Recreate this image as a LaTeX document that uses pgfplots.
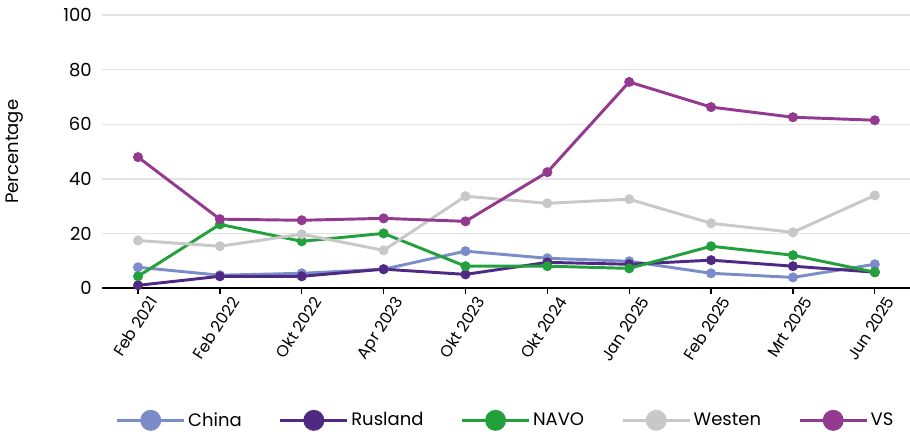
\documentclass[border=0pt]{standalone}
\usepackage{pgfplots}
\pgfplotsset{compat=1.18}
\usepackage{fontspec}
\setmainfont{Poppins}
\definecolor{cChina}{HTML}{7B8DC8}
\definecolor{cRus}{HTML}{4F2A85}
\definecolor{cNavo}{HTML}{22A03C}
\definecolor{cWest}{HTML}{C8C8C8}
\definecolor{cVS}{HTML}{93398F}

\begin{document}
\begin{tikzpicture}
\begin{axis}[
  name=main,
  scale only axis,
  width=606pt,
  height=205pt,
  xmin=-0.44, xmax=9.43,
  ymin=0, ymax=100,
  ytick={0,20,...,100},
  xtick={0,...,9},
  xticklabels={Feb 2021,Feb 2022,Okt 2022,Apr 2023,Okt 2023,Okt 2024,Jan 2025,Feb 2025,Mrt 2025,Jun 2025},
  xticklabel style={rotate=57, anchor=north east, font=\fontsize{12}{12}\selectfont, inner sep=1pt, xshift=4.5pt, yshift=-6pt},
  yticklabel style={font=\fontsize{13.5}{13.5}\selectfont, anchor=east, inner sep=0pt, xshift=-3.5pt},
  /pgf/number format/assume math mode=true,
  axis lines*=left,
  x axis line style={black, line width=1.5pt},
  y axis line style={draw=none},
  ytick style={draw=none},
  xtick style={black, line width=1pt},
  tick align=outside,
  major tick length=4pt,
  ymajorgrids,
  major grid style={draw=gray!22, line width=0.8pt},
  ylabel={Percentage},
  ylabel style={font=\fontsize{13.5}{13.5}\selectfont, at={(axis description cs:-0.1077,0.5)}, anchor=center},
  every axis plot/.append style={line width=2.2pt, mark=*, mark size=2.6pt},
  legend style={at={(axis description cs:0.5,0)}, anchor=center, yshift=-99pt, draw=none,
    font=\fontsize{13.5}{13.5}\selectfont,
    /tikz/every even column/.append style={column sep=26pt}},
  legend columns=5,
  legend image code/.code={
    \draw[line width=2.2pt] (0pt,0pt) -- (50pt,0pt);
    \fill (25pt,0pt) circle (6.75pt);
  },
]
\addplot[cChina] coordinates {(0,7.7) (1,4.8) (2,5.5) (3,7.0) (4,13.6) (5,11.0) (6,9.9) (7,5.5) (8,4.0) (9,8.8)};
\addlegendentry{China}
\addplot[cRus] coordinates {(0,1.1) (1,4.4) (2,4.4) (3,7.0) (4,5.1) (5,9.5) (6,8.8) (7,10.3) (8,8.1) (9,5.9)};
\addlegendentry{Rusland}
\addplot[cNavo] coordinates {(0,4.4) (1,23.4) (2,17.2) (3,20.1) (4,8.1) (5,8.1) (6,7.3) (7,15.4) (8,12.1) (9,5.9)};
\addlegendentry{NAVO}
\addplot[cWest] coordinates {(0,17.5) (1,15.4) (2,19.8) (3,13.9) (4,33.7) (5,31.1) (6,32.6) (7,23.8) (8,20.5) (9,34.0)};
\addlegendentry{Westen}
\addplot[cVS] coordinates {(0,48.0) (1,25.3) (2,24.9) (3,25.6) (4,24.5) (5,42.5) (6,75.5) (7,66.3) (8,62.6) (9,61.5)};
\addlegendentry{VS}
\end{axis}
\pgfresetboundingbox
\path[use as bounding box] ([xshift=-76.5pt, yshift=-111.75pt]main.south west) rectangle ([yshift=11.25pt]main.north east);
\end{tikzpicture}
\end{document}
